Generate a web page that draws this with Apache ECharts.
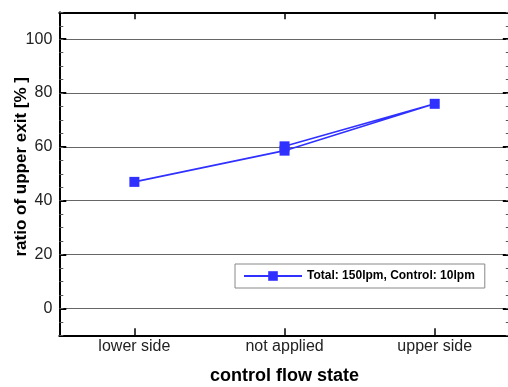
<!DOCTYPE html>
<html>
<head>
<meta charset="utf-8">
<script src="https://cdn.jsdelivr.net/npm/echarts@6/dist/echarts.min.js"></script>
<style>
  html, body { margin: 0; padding: 0; background: #fff; }
  #chart { width: 508px; height: 387px; }
</style>
</head>
<body>
<div id="chart"></div>
<script>
// Control flow states on the horizontal axis
const categories = ['lower side', 'not applied', 'upper side'];
// Measurement sequence: lower -> not applied -> upper -> not applied (repeat)
const runStates = ['lower side', 'not applied', 'upper side', 'not applied'];
const upperExitRatio = [47.0, 58.6, 76.0, 60.2];
// Labelled ticks on the ratio axis
const yLabelValues = [0, 20, 40, 60, 80, 100];
const seriesName = 'Total: 150lpm, Control: 10lpm';

const FONT = '"Liberation Sans", Arial, sans-serif';
const BLUE = '#3030ff';
const Y_MIN = -10, Y_MAX = 110;

const chart = echarts.init(document.getElementById('chart'), null, { renderer: 'canvas' });

const minorAxis = (position) => ({
  type: 'value', position: position, min: Y_MIN, max: Y_MAX, interval: 5,
  axisLine: { show: false, onZero: false },
  axisTick: { show: true, inside: true, length: 4, lineStyle: { color: '#555', width: 1 } },
  axisLabel: { show: false },
  splitLine: { show: false }
});

chart.setOption({
  animation: false,
  backgroundColor: '#fff',
  textStyle: { fontFamily: FONT },
  grid: { left: 59.3, top: 12.3, width: 450.5, height: 323, containLabel: false, outerBoundsMode: 'none' },
  legend: {
    data: [seriesName],
    left: 235, top: 264,
    orient: 'horizontal',
    itemWidth: 58, itemHeight: 12,
    padding: [6, 10, 6, 8],
    borderColor: '#888', borderWidth: 1,
    backgroundColor: '#fff',
    textStyle: { fontFamily: FONT, fontSize: 12, fontWeight: 'bold', color: '#000' }
  },
  xAxis: [
    {
      type: 'category', data: categories, position: 'bottom', boundaryGap: true,
      axisLine: { show: true, onZero: false, lineStyle: { color: '#000', width: 2 } },
      axisTick: { show: true, inside: true, alignWithLabel: true, length: 7, lineStyle: { color: '#000', width: 1.5 } },
      axisLabel: { fontFamily: FONT, fontSize: 16, color: '#222', margin: 3 },
      splitLine: { show: false },
      name: 'control flow state', nameLocation: 'middle', nameGap: 32, nameMoveOverlap: false,
      nameTextStyle: { fontFamily: FONT, fontSize: 18, fontWeight: 'bold', color: '#000' }
    },
    {
      type: 'category', data: categories, position: 'top', boundaryGap: true,
      axisLine: { show: true, onZero: false, lineStyle: { color: '#000', width: 2 } },
      axisTick: { show: true, inside: true, alignWithLabel: true, length: 7, lineStyle: { color: '#000', width: 1.5 } },
      axisLabel: { show: false },
      splitLine: { show: false }
    }
  ],
  yAxis: [
    {
      type: 'value', position: 'left', min: Y_MIN, max: Y_MAX, interval: 5,
      axisLine: { show: true, onZero: false, lineStyle: { color: '#000', width: 2 } },
      axisTick: { show: true, inside: true, length: 7, customValues: yLabelValues, lineStyle: { color: '#000', width: 2 } },
      axisLabel: { customValues: yLabelValues, fontFamily: FONT, fontSize: 16, color: '#222', margin: 7 },
      splitLine: { show: true, lineStyle: { color: '#666', width: 1 } },
      name: 'ratio of upper exit [% ]', nameLocation: 'middle', nameGap: 29, nameMoveOverlap: false,
      nameTextStyle: { fontFamily: FONT, fontSize: 17, fontWeight: 'bold', color: '#000', padding: [0, 0, 0, 14] }
    },
    minorAxis('left'),
    {
      type: 'value', position: 'right', min: Y_MIN, max: Y_MAX, interval: 5,
      axisLine: { show: true, onZero: false, lineStyle: { color: '#000', width: 2 } },
      axisTick: { show: true, inside: true, length: 7, customValues: yLabelValues, lineStyle: { color: '#000', width: 2 } },
      axisLabel: { show: false },
      splitLine: { show: false }
    },
    minorAxis('right')
  ],
  series: [
    {
      name: seriesName,
      type: 'line',
      xAxisIndex: 0, yAxisIndex: 0,
      data: runStates.map((s, i) => [s, upperExitRatio[i]]),
      symbol: 'rect', symbolSize: 10,
      lineStyle: { color: BLUE, width: 1.6 },
      itemStyle: { color: BLUE },
      z: 5
    }
  ]
});
</script>
</body>
</html>
